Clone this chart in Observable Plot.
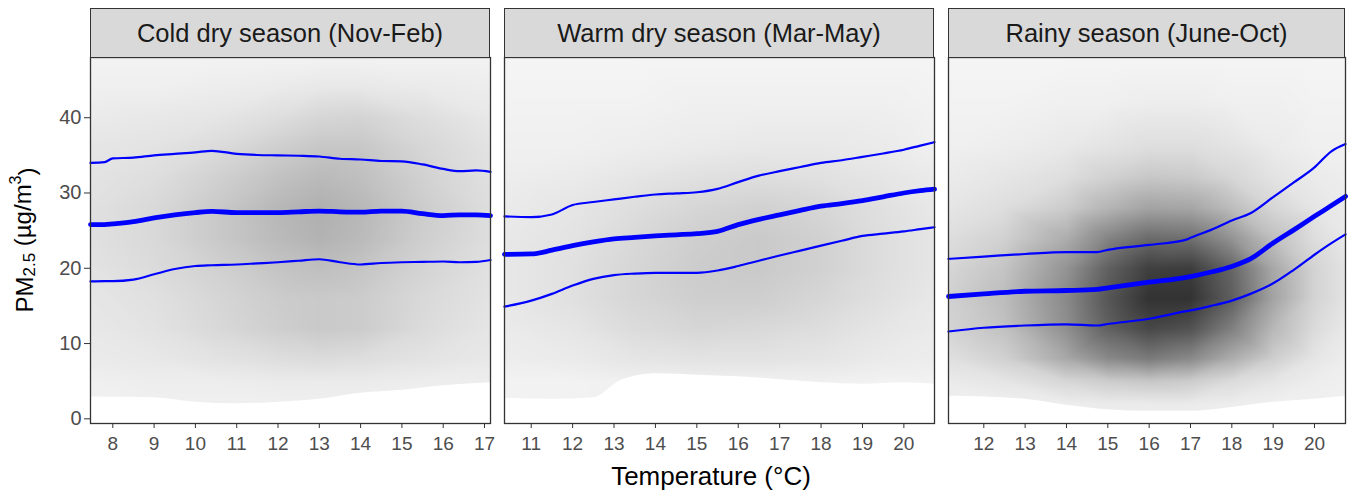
<!DOCTYPE html>
<html>
<head>
<meta charset="utf-8">
<script src="https://cdn.jsdelivr.net/npm/d3@7"></script>
<script src="https://cdn.jsdelivr.net/npm/@observablehq/plot@0.6"></script>
<style>
  html, body { margin: 0; padding: 0; background: #fff; }
  #wrap { position: relative; width: 1352px; height: 494px; font-family: "Liberation Sans", Arial, sans-serif; overflow: hidden; }
  .strip { position: absolute; top: 8px; height: 50px; box-sizing: border-box; border: 1.2px solid #333; background: #d9d9d9;
           color: #1a1a1a; font-size: 25.5px; display: flex; align-items: center; justify-content: center; }
  .xtitle { position: absolute; left: 511px; width: 400px; top: 461px; text-align: center; font-size: 26px; color: #000; }
</style>
</head>
<body>
<div id="wrap"></div>
<script>
// ---------------- data ----------------
const seasons = ["Cold dry season (Nov-Feb)", "Warm dry season (Mar-May)", "Rainy season (June-Oct)"];
const yTicks = [0, 10, 20, 30, 40];
const yDomain = [-0.62, 48.0];

// Cold dry season
const coldDomain = [7.46, 17.145];
const coldTicks = [8, 9, 10, 11, 12, 13, 14, 15, 16, 17];
const coldT   = [7.46, 7.8, 8, 8.5, 9, 9.5, 10, 10.4, 11, 11.5, 12, 12.5, 13, 13.5, 14, 14.5, 15, 15.5, 16, 16.4, 16.8, 17.145];
const coldQ90 = [34.0, 34.1, 34.6, 34.7, 35.0, 35.2, 35.4, 35.6, 35.2, 35.05, 35.0, 34.95, 34.85, 34.55, 34.45, 34.25, 34.2, 33.8, 33.2, 32.9, 33.0, 32.8];
const coldQ50 = [25.8, 25.8, 25.9, 26.2, 26.7, 27.1, 27.4, 27.55, 27.4, 27.4, 27.4, 27.5, 27.6, 27.5, 27.45, 27.6, 27.6, 27.25, 27.0, 27.1, 27.1, 27.0];
const coldQ10 = [18.25, 18.3, 18.3, 18.5, 19.2, 19.9, 20.3, 20.4, 20.5, 20.65, 20.8, 21.0, 21.2, 20.8, 20.5, 20.7, 20.8, 20.85, 20.9, 20.8, 20.85, 21.1];
const coldFloorT = [7.46, 9, 10, 11, 12, 13, 14, 15, 16, 17.145];
const coldFloor  = [2.9, 2.8, 2.2, 2.0, 2.2, 2.6, 3.4, 3.8, 4.4, 4.8];
const coldShadeX = [7.46, 9, 10.5, 12, 13, 14, 15.5, 17.145];
const coldShadeY = [48, 44, 40, 36, 32, 28, 24, 20, 16, 12, 8, 5, 2, -0.62];
const coldShade = [
  [5, 5, 5, 5, 5, 5, 5, 5],
  [6, 6, 7, 8, 9, 9, 8, 7],
  [8, 9, 10, 13, 16, 17, 13, 9],
  [10, 11, 14, 19, 22, 22, 16, 11],
  [11, 13, 18, 24, 27, 25, 18, 12],
  [12, 15, 21, 28, 31, 28, 20, 13],
  [12, 15, 21, 27, 30, 27, 19, 13],
  [11, 14, 18, 23, 25, 23, 17, 12],
  [10, 12, 16, 20, 21, 20, 15, 11],
  [9, 11, 15, 19, 21, 20, 14, 10],
  [8, 9, 11, 13, 14, 13, 11, 9],
  [6, 7, 7, 8, 8, 8, 7, 7],
  [6, 6, 6, 6, 6, 6, 6, 6],
  [6, 6, 6, 6, 6, 6, 6, 6]
];

// Warm dry season
const warmDomain = [10.355, 20.74];
const warmTicks = [11, 12, 13, 14, 15, 16, 17, 18, 19, 20];
const warmT   = [10.355, 11, 11.5, 12, 12.5, 13, 13.5, 14, 14.5, 15, 15.5, 16, 16.5, 17, 17.5, 18, 18.5, 19, 19.5, 20, 20.4, 20.74];
const warmQ90 = [26.9, 26.8, 27.15, 28.4, 28.8, 29.15, 29.5, 29.8, 29.95, 30.1, 30.55, 31.45, 32.3, 32.9, 33.45, 34.0, 34.35, 34.8, 35.25, 35.75, 36.3, 36.75];
const warmQ50 = [21.85, 21.9, 22.4, 23.0, 23.5, 23.9, 24.1, 24.3, 24.45, 24.6, 24.9, 25.8, 26.5, 27.1, 27.7, 28.25, 28.6, 29.0, 29.5, 30.0, 30.3, 30.5];
const warmQ10 = [14.9, 15.7, 16.6, 17.7, 18.6, 19.1, 19.3, 19.4, 19.4, 19.4, 19.7, 20.3, 21.0, 21.7, 22.35, 23.0, 23.65, 24.3, 24.6, 24.9, 25.2, 25.45];
const warmFloorT = [10.355, 11.5, 12.5, 13.2, 14, 15, 16, 17, 18, 19, 20, 20.74];
const warmFloor  = [2.7, 2.6, 2.8, 5.2, 6.0, 5.8, 5.6, 5.2, 4.8, 4.6, 4.8, 4.6];
const warmShadeX = [10.355, 12, 13.5, 15, 16.5, 18, 19.5, 20.74];
const warmShadeY = [48, 42, 36, 32, 28, 24, 20, 16, 12, 8, 5, -0.62];
const warmShade = [
  [4, 4, 4, 4, 4, 4, 4, 4],
  [5, 5, 5, 6, 6, 6, 6, 5],
  [6, 6, 7, 8, 9, 9, 8, 6],
  [7, 8, 10, 12, 13, 12, 10, 8],
  [8, 10, 13, 16, 18, 16, 12, 9],
  [9, 11, 15, 19, 21, 18, 13, 10],
  [9, 12, 16, 20, 21, 18, 13, 10],
  [9, 12, 16, 19, 19, 16, 12, 9],
  [8, 10, 14, 16, 15, 13, 10, 8],
  [7, 8, 10, 11, 11, 10, 8, 7],
  [5, 5, 6, 6, 6, 6, 5, 5],
  [5, 5, 5, 5, 5, 5, 5, 5]
];

// Rainy season
const rainyDomain = [11.146, 20.75];
const rainyTicks = [12, 13, 14, 15, 16, 17, 18, 19, 20];
const rainyT   = [11.146, 12, 13, 14, 14.74, 15, 16, 16.9, 17, 17.5, 18, 18.45, 19, 19.5, 20, 20.4, 20.75];
const rainyQ90 = [21.25, 21.55, 21.9, 22.15, 22.15, 22.45, 23.1, 23.8, 24.05, 25.1, 26.35, 27.3, 29.45, 31.4, 33.4, 35.5, 36.5];
const rainyQ50 = [16.25, 16.6, 16.95, 17.05, 17.2, 17.4, 18.15, 18.8, 18.9, 19.5, 20.25, 21.25, 23.35, 25.1, 26.9, 28.3, 29.55];
const rainyQ10 = [11.6, 12.1, 12.4, 12.55, 12.4, 12.6, 13.3, 14.3, 14.4, 15.0, 15.7, 16.6, 18.0, 19.8, 21.8, 23.3, 24.5];
const rainyFloorT = [11.146, 12, 13, 14, 15, 16, 17, 18, 19, 20, 20.75];
const rainyFloor  = [3.0, 2.9, 2.6, 1.8, 1.2, 1.0, 1.0, 1.5, 2.2, 2.6, 3.0];
const rainyShadeX = [11.146, 12.5, 14, 15, 16, 17, 18, 19, 20, 20.75];
const rainyShadeY = [48, 42, 36, 32, 28, 24, 20, 16, 12, 8, 5, 2, -0.62];
const rainyShade = [
  [4, 4, 4, 4, 4, 4, 4, 4, 4, 4],
  [5, 5, 6, 6, 7, 7, 6, 6, 5, 5],
  [6, 7, 9, 11, 13, 13, 11, 8, 6, 6],
  [8, 10, 13, 18, 22, 21, 16, 11, 8, 7],
  [10, 13, 20, 29, 36, 35, 26, 16, 10, 8],
  [13, 18, 32, 48, 58, 56, 42, 25, 13, 9],
  [16, 23, 42, 62, 75, 76, 60, 34, 17, 11],
  [18, 26, 46, 66, 80, 80, 63, 36, 17, 11],
  [17, 24, 44, 62, 72, 68, 50, 28, 14, 9],
  [12, 18, 34, 46, 52, 46, 32, 19, 10, 7],
  [8, 10, 16, 20, 22, 20, 14, 10, 7, 6],
  [6, 6, 7, 8, 8, 8, 7, 6, 6, 6],
  [6, 6, 6, 6, 6, 6, 6, 6, 6, 6]
];

// ---------------- drawing ----------------
const panels = [
  {title: seasons[0], domain: coldDomain, ticks: coldTicks, T: coldT, q10: coldQ10, q50: coldQ50, q90: coldQ90,
   fT: coldFloorT, f: coldFloor, sx: coldShadeX, sy: coldShadeY, s: coldShade, left: 0, width: 490, ml: 90},
  {title: seasons[1], domain: warmDomain, ticks: warmTicks, T: warmT, q10: warmQ10, q50: warmQ50, q90: warmQ90,
   fT: warmFloorT, f: warmFloor, sx: warmShadeX, sy: warmShadeY, s: warmShade, left: 504, width: 430, ml: 0},
  {title: seasons[2], domain: rainyDomain, ticks: rainyTicks, T: rainyT, q10: rainyQ10, q50: rainyQ50, q90: rainyQ90,
   fT: rainyFloorT, f: rainyFloor, sx: rainyShadeX, sy: rainyShadeY, s: rainyShade, left: 948, width: 397, ml: 0}
];

const wrap = document.getElementById("wrap");
const frameH = 366, mb = 71;

panels.forEach((p, i) => {
  const grid = [];
  p.sy.forEach((yv, r) => p.sx.forEach((xv, c) => grid.push({x: xv, y: yv, v: p.s[r][c]})));
  const lineData = p.T.map((t, k) => ({t, q10: p.q10[k], q50: p.q50[k], q90: p.q90[k]}));
  const floorData = p.fT.map((t, k) => ({t, f: p.f[k]}));

  const marks = [
    Plot.raster(grid, {x: "x", y: "y", fill: "v", interpolate: "barycentric",
      x1: p.domain[0], x2: p.domain[1], y1: yDomain[0], y2: yDomain[1]}),
    Plot.areaY(floorData, {x: "t", y1: yDomain[0], y2: "f", fill: "white", curve: "monotone-x"}),
    Plot.line(lineData, {x: "t", y: "q90", stroke: "#0000ff", strokeWidth: 2.2, curve: "monotone-x"}),
    Plot.line(lineData, {x: "t", y: "q10", stroke: "#0000ff", strokeWidth: 2.2, curve: "monotone-x"}),
    Plot.line(lineData, {x: "t", y: "q50", stroke: "#0000ff", strokeWidth: 4.8, curve: "monotone-x"}),
    Plot.frame({stroke: "#333", strokeWidth: 1.3}),
    Plot.axisX({ticks: p.ticks, tickSize: 5, tickPadding: 8, stroke: "#333", fill: "#4d4d4d", label: null, fontSize: 19})
  ];
  if (i === 0) marks.push(Plot.axisY({ticks: yTicks, tickSize: 6, tickPadding: 3, stroke: "#333", fill: "#4d4d4d", label: null, fontSize: 20}));

  const chart = Plot.plot({
    width: p.width, height: frameH + mb,
    marginLeft: p.ml, marginRight: 0, marginTop: 0, marginBottom: mb,
    style: {fontFamily: "Liberation Sans, Arial, sans-serif", background: "transparent", overflow: "visible"},
    x: {domain: p.domain},
    y: {domain: yDomain, axis: i === 0 ? undefined : null},
    color: {type: "linear", domain: [0, 100], range: ["#ffffff", "#000000"]},
    marks
  });
  chart.style.left = p.left + "px";
  chart.style.position = "absolute";
  chart.style.top = "57px";
  chart.style.maxWidth = "none";
  wrap.appendChild(chart);

  if (i === 0) {
    const svg = d3.select(chart);
    const t = svg.append("text")
      .attr("transform", `translate(24, ${frameH / 2}) rotate(-90)`)
      .attr("text-anchor", "middle")
      .attr("dominant-baseline", "central")
      .attr("font-size", 24)
      .attr("fill", "#000");
    t.append("tspan").text("PM");
    t.append("tspan").attr("font-size", 17).attr("dy", "0.3em").text("2.5");
    t.append("tspan").attr("dy", "-0.3em").text(" (µg/m");
    t.append("tspan").attr("font-size", 16).attr("dy", "-0.45em").text("3");
    t.append("tspan").attr("dy", "0.45em").text(")");
  }

  const strip = document.createElement("div");
  strip.className = "strip";
  strip.style.left = (p.left + p.ml) + "px";
  strip.style.width = (p.width - p.ml) + "px";
  strip.textContent = p.title;
  wrap.appendChild(strip);
});

const xt = document.createElement("div");
xt.className = "xtitle";
xt.textContent = "Temperature (°C)";
wrap.appendChild(xt);
</script>
</body>
</html>
